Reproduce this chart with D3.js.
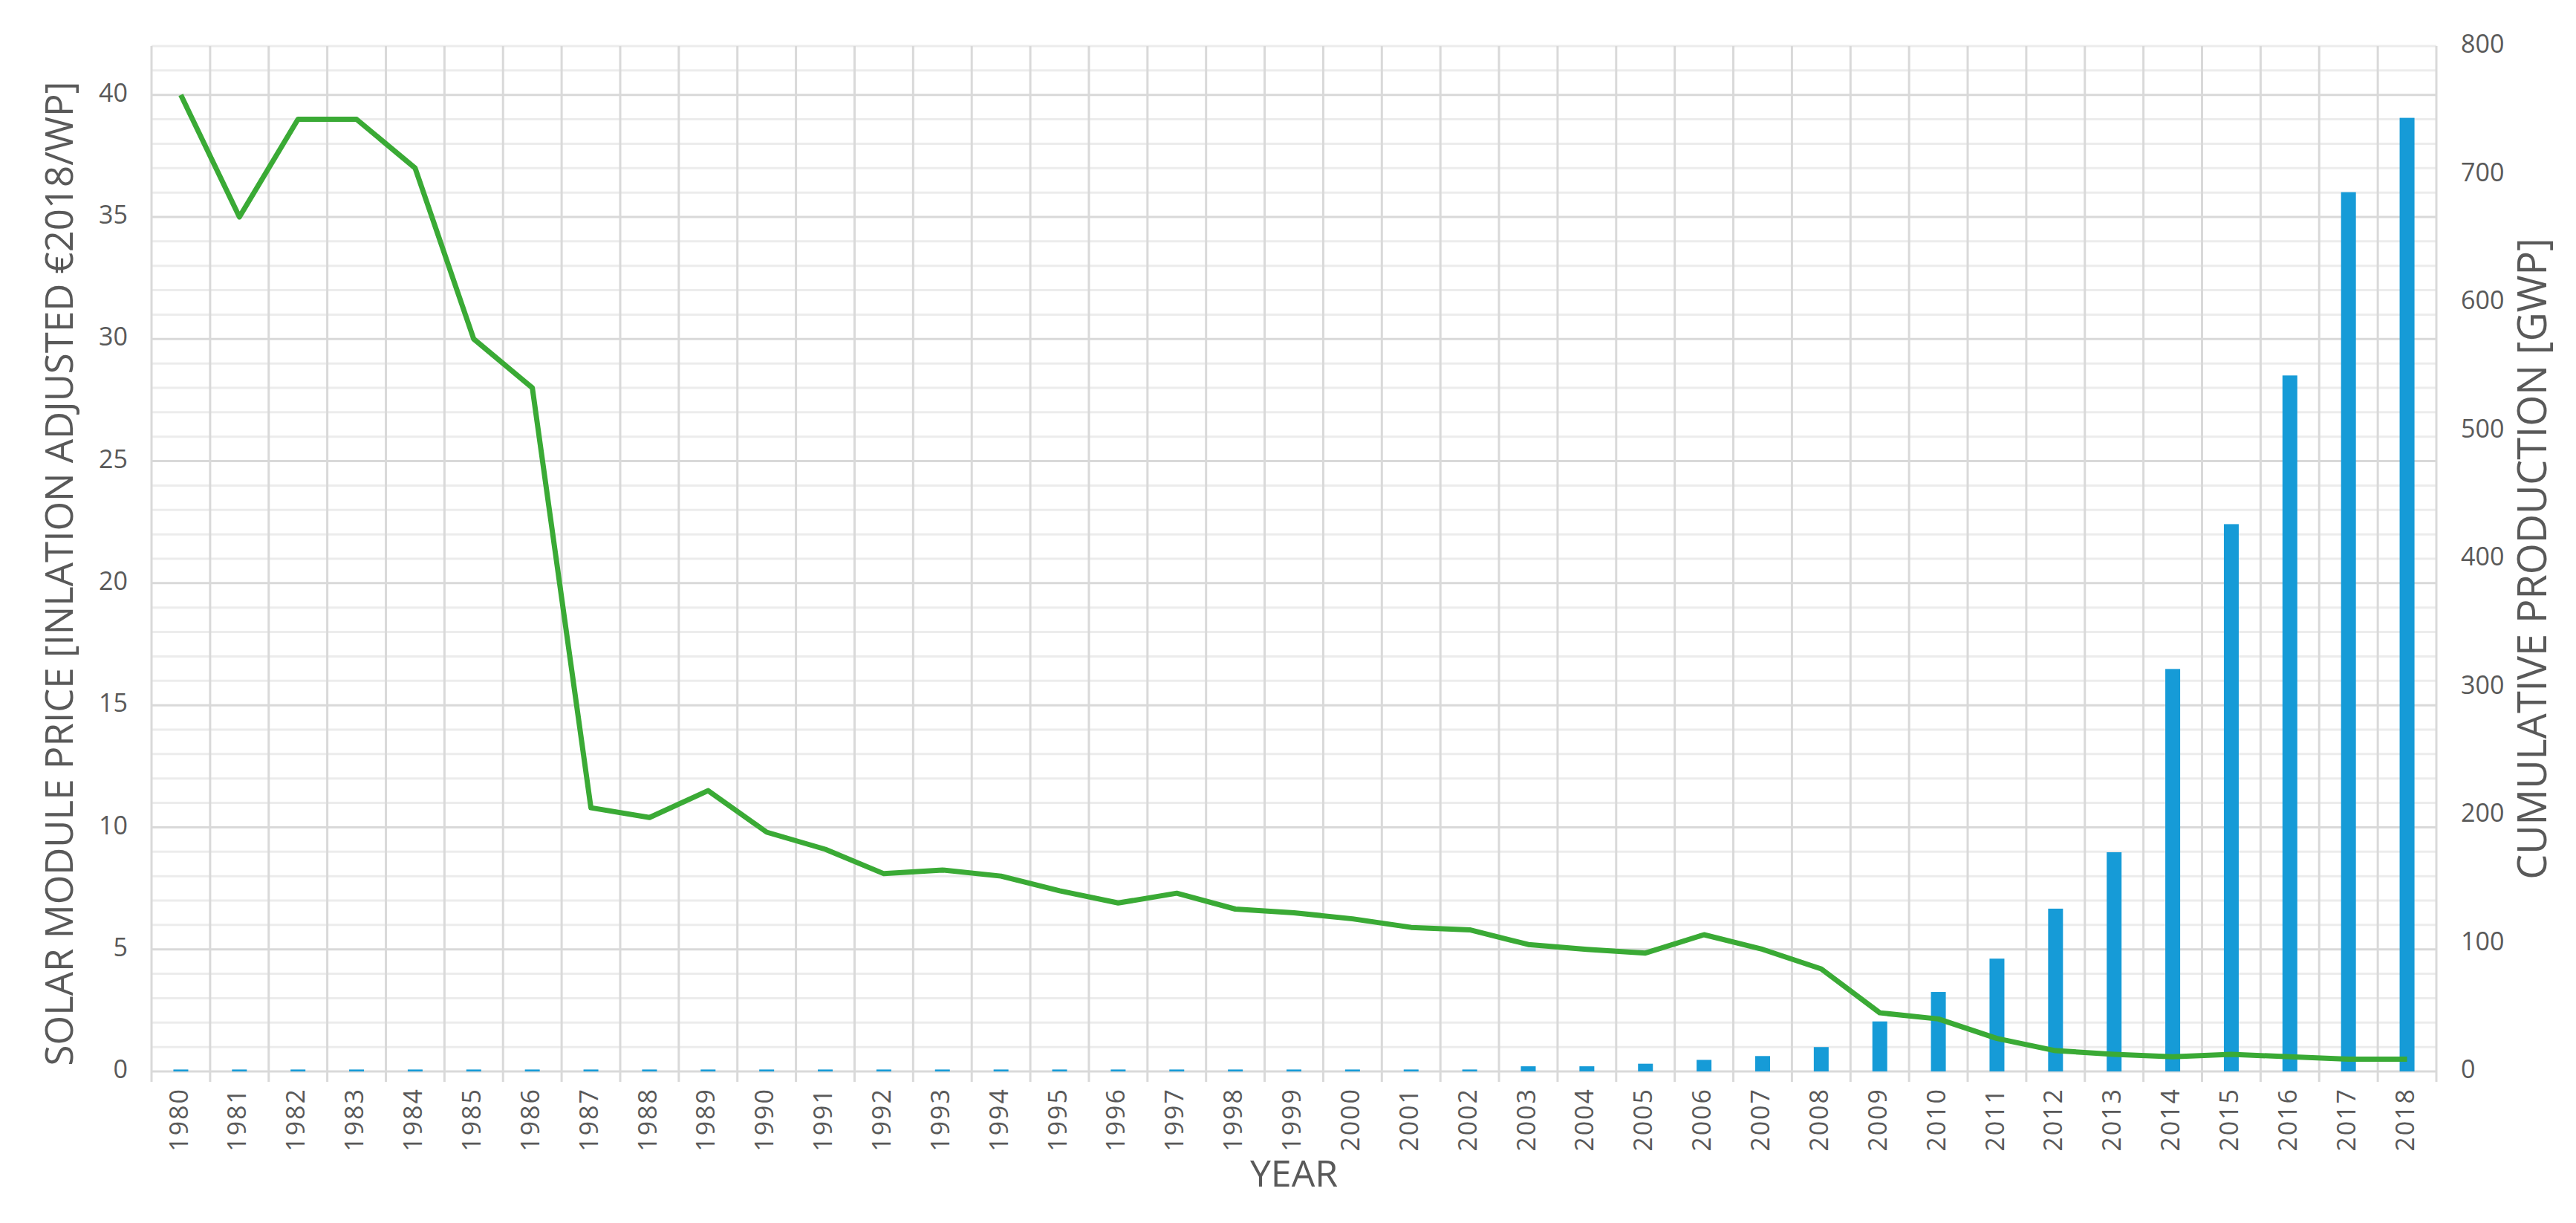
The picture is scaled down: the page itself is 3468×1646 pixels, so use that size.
<!DOCTYPE html>
<html>
<head>
<meta charset="utf-8">
<script src="https://cdn.jsdelivr.net/npm/d3@7"></script>
<style>
  body { margin: 0; background: #fff; }
  text { font-family: "Open Sans", "Noto Sans", sans-serif; fill: #595959; }
</style>
</head>
<body>
<svg id="chart"></svg>
<script>
const width = 3468, height = 1646;
const marginLeft = 204, marginRight = 188, marginTop = 62, marginBottom = 204;

const years = d3.range(1980, 2019).map(String);
// module price, inflation adjusted EUR2018/Wp
const price = [40, 35, 39, 39, 37, 30, 28, 10.8, 10.4, 11.5, 9.8, 9.1, 8.1, 8.25, 8.0,
  7.4, 6.9, 7.3, 6.65, 6.5, 6.25, 5.9, 5.8, 5.2, 5.0, 4.85, 5.6, 5.0, 4.2, 2.4,
  2.15, 1.35, 0.85, 0.7, 0.6, 0.7, 0.6, 0.5, 0.5];
// cumulative production GWp
const production = [1.5, 1.5, 1.5, 1.5, 1.5, 1.5, 1.5, 1.5, 1.5, 1.5, 1.5, 1.5, 1.5, 1.5, 1.5,
  1.5, 1.5, 1.5, 1.5, 1.5, 1.5, 1.5, 1.5, 4, 4, 6, 9, 12, 19, 39,
  62, 88, 127, 171, 314, 427, 543, 686, 744];
const leftTicks = [0, 5, 10, 15, 20, 25, 30, 35, 40];
const rightTicks = [0, 100, 200, 300, 400, 500, 600, 700, 800];

const svg = d3.select('#chart')
  .attr('width', width)
  .attr('height', height);

const x = d3.scaleBand().domain(years).range([marginLeft, width - marginRight]);
const y = d3.scaleLinear().domain([0, 42]).range([height - marginBottom, marginTop]);
const y2 = d3.scaleLinear().domain([0, 800]).range([height - marginBottom, marginTop]);

// minor gridlines every 1 unit
svg.append('g').selectAll('line')
  .data(d3.range(0, 43).filter((v) => v % 5 !== 0))
  .join('line')
  .attr('x1', marginLeft).attr('x2', width - marginRight)
  .attr('y1', (d) => y(d)).attr('y2', (d) => y(d))
  .style('stroke', '#ececec').style('stroke-width', 3);

// vertical gridlines
svg.append('g').selectAll('line')
  .data(years.concat(['end']))
  .join('line')
  .attr('x1', (d, i) => marginLeft + i * x.step())
  .attr('x2', (d, i) => marginLeft + i * x.step())
  .attr('y1', marginTop).attr('y2', height - marginBottom + 14)
  .style('stroke', '#d9d9d9').style('stroke-width', 3);

// major gridlines
svg.append('g').selectAll('line')
  .data(leftTicks)
  .join('line')
  .attr('x1', marginLeft).attr('x2', width - marginRight)
  .attr('y1', (d) => y(d)).attr('y2', (d) => y(d))
  .style('stroke', '#d9d9d9').style('stroke-width', 3);

// left ticks
svg.append('g').selectAll('text')
  .data(leftTicks)
  .join('text')
  .attr('x', 172).attr('y', (d) => y(d))
  .attr('text-anchor', 'end').attr('dominant-baseline', 'middle')
  .style('font-size', '34px')
  .text((d) => d);

// right ticks
svg.append('g').selectAll('text')
  .data(rightTicks)
  .join('text')
  .attr('x', 3313).attr('y', (d) => y2(d))
  .attr('text-anchor', 'start').attr('dominant-baseline', 'middle')
  .style('font-size', '34px')
  .text((d) => d);

// year labels
svg.append('g').selectAll('text')
  .data(years)
  .join('text')
  .attr('transform', (d) => `translate(${x(d) + x.bandwidth() / 2},${height - marginBottom + 22}) rotate(-90)`)
  .attr('text-anchor', 'end').attr('dominant-baseline', 'middle')
  .style('font-size', '34px')
  .style('letter-spacing', '2px')
  .text((d) => d);

// bars
const barW = 20;
svg.append('g').selectAll('rect')
  .data(years)
  .join('rect')
  .attr('x', (d) => x(d) + x.bandwidth() / 2 - barW / 2)
  .attr('width', barW)
  .attr('y', (d, i) => y2(production[i]))
  .attr('height', (d, i) => y2(0) - y2(production[i]))
  .style('fill', '#169bd7');

// price line
const line = d3.line()
  .x((d, i) => x(years[i]) + x.bandwidth() / 2)
  .y((d) => y(d));
svg.append('path')
  .datum(price)
  .attr('d', line)
  .style('fill', 'none')
  .style('stroke', '#3aaa35')
  .style('stroke-width', 7)
  .style('stroke-linejoin', 'round');

// axis titles
svg.append('text')
  .attr('transform', `translate(84,${(marginTop + height - marginBottom) / 2 + 20}) rotate(-90)`)
  .attr('text-anchor', 'middle').attr('dominant-baseline', 'middle')
  .style('font-size', '51px')
  .text('SOLAR MODULE PRICE [INLATION ADJUSTED €2018/WP]');

svg.append('text')
  .attr('transform', `translate(3414,${(marginTop + height - marginBottom) / 2}) rotate(-90)`)
  .attr('text-anchor', 'middle').attr('dominant-baseline', 'middle')
  .style('font-size', '54px')
  .text('CUMULATIVE PRODUCTION [GWP]');

svg.append('text')
  .attr('x', (marginLeft + width - marginRight) / 2).attr('y', 1584)
  .attr('text-anchor', 'middle').attr('dominant-baseline', 'middle')
  .style('font-size', '50px')
  .text('YEAR');
</script>
</body>
</html>
